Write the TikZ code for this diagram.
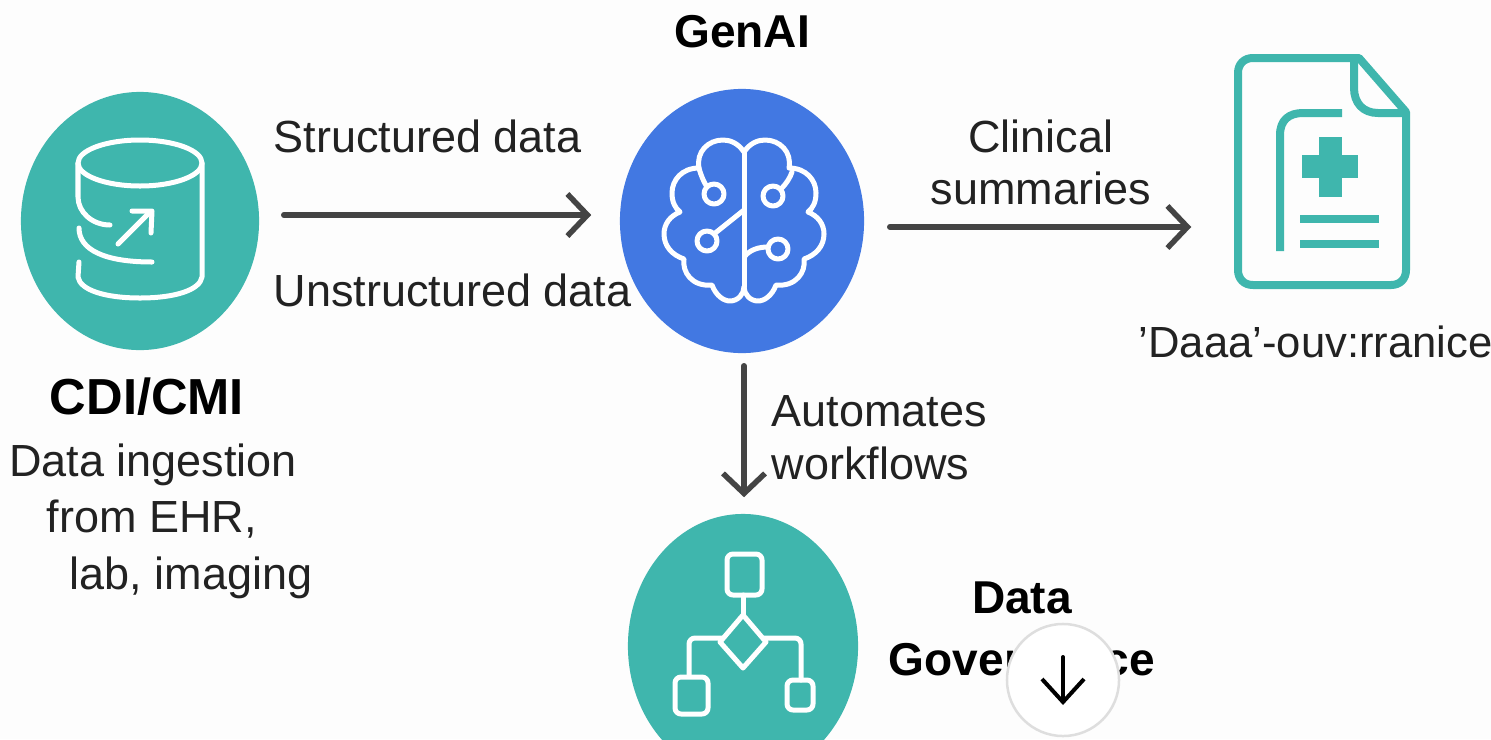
\documentclass[tikz,border=0pt]{standalone}
\usepackage{fontspec}
\setmainfont{Liberation Sans}
\usetikzlibrary{arrows.meta, shapes.geometric}

\definecolor{tealfill}{HTML}{3FB6AD}
\definecolor{bluefill}{HTML}{4278E2}
\definecolor{pagefill}{HTML}{FDFDFD}
\definecolor{inkdark}{HTML}{222222}
\definecolor{flowgray}{HTML}{444444}

\tikzset{
    disc/.style={shape=ellipse, inner sep=0pt, draw=none},
    icon/.style={draw=white, line width=0.05cm, line cap=round, line join=round},
    docline/.style={draw=tealfill, line width=0.08cm, line join=round},
    flow/.style={draw=flowgray, line width=0.055cm, line cap=round, -{Straight Barb[length=0.2cm, width=0.42cm, line width=0.055cm]}},
    plain/.style={text=inkdark, font=\fontsize{12.8}{15}\selectfont, inner sep=0pt},
    heading/.style={text=black, font=\fontsize{13.1}{15}\selectfont\bfseries, inner sep=0pt}
}

\newcommand{\brainhalf}{
    (744,152) .. controls (738,143) and (730,140) .. (723,140)
    .. controls (708,140) and (696,152) .. (699,168)
    .. controls (682,168) and (672,180) .. (672,193)
    .. controls (672,202) and (675,208) .. (680,212)
    .. controls (670,216) and (664,224) .. (664,234)
    .. controls (664,246) and (672,255) .. (684,259)
    .. controls (682,272) and (692,287) .. (712,285)
    .. controls (716,296) and (724,301) .. (730,301)
    .. controls (738,301) and (744,294) .. (744,287)
}

\begin{document}
\begin{tikzpicture}[x=0.01cm, y=-0.01cm]

            \useasboundingbox (0,0) rectangle (1491,739);
            \clip (0,0) rectangle (1491,739);
            \fill[pagefill] (0,0) rectangle (1491,739);

            \node[disc, fill=tealfill, minimum width=2.38cm, minimum height=2.58cm] (cdi) at (140,221) {};
            \node[disc, fill=bluefill, minimum width=2.44cm, minimum height=2.64cm] (genai) at (742,221) {};
            \node[disc, fill=tealfill, minimum width=2.30cm, minimum height=2.64cm] (gov) at (743,646) {};
            \node[inner sep=0pt, minimum width=1.70cm, minimum height=2.28cm] (doc) at (1322,171) {};

            \draw[flow] ([shift={(24,-6)}]cdi.east)--([shift={(-28,-6)}]genai.west);
            \draw[flow] ([shift={(25,6)}]genai.east)--([shift={(-45,56)}]doc.west);
            \draw[flow] ([shift={(2,12)}]genai.south)--([shift={(1,-16)}]gov.north);

            \draw[icon] (140,163) ellipse (62 and 23);
            \draw[icon] (78,163)--(78,197) .. controls (78,212) and (92,225) .. (110,225);
            \draw[icon] (79,228) .. controls (79,250) and (105,262) .. (152,262);
            \draw[icon] (79,262)--(78,277) .. controls (80,290) and (105,298) .. (140,298)
                .. controls (175,298) and (200,290) .. (202,277)--(202,163);
            \draw[icon] (118,244)--(150,212);
            \draw[icon] (132,211)--(152,211)--(151,233);

            \draw[icon] \brainhalf;
            \begin{scope}[shift={(1488,0)}, xscale=-1]
                \draw[icon] \brainhalf;
            \end{scope}
            \draw[icon] (744,152)--(744,287);
            \draw[icon] (714,194) circle (10);
            \draw[icon] (773,196) circle (10);
            \draw[icon] (707,241) circle (10);
            \draw[icon] (778,249) circle (10);
            \draw[icon] (699,168) .. controls (701,176) and (704,182) .. (707,187);
            \draw[icon] (792,172) .. controls (790,178) and (786,184) .. (781,189);
            \draw[icon] (714,234)--(744,210);
            \draw[icon] (745,256) .. controls (750,250) and (758,247) .. (768,247);

            \draw[docline] (1359,58)--(1253,58) .. controls (1244,58) and (1238,64) .. (1238,73)
                --(1238,270) .. controls (1238,279) and (1244,285) .. (1253,285)
                --(1391,285) .. controls (1400,285) and (1406,279) .. (1406,270)
                --(1406,112)--cycle;
            \draw[docline] (1354,62)--(1354,88) .. controls (1354,103) and (1363,113) .. (1378,113)--(1406,113);
            \draw[docline] (1280,251)--(1280,135) .. controls (1280,120) and (1289,113) .. (1303,113)--(1342,113);
            \fill[tealfill] (1319,137) rectangle (1342,197);
            \fill[tealfill] (1302,155) rectangle (1358,178);
            \draw[docline] (1300,219)--(1379,219);
            \draw[docline] (1300,244)--(1379,244);

            \draw[icon, rounded corners=0.06cm] (727,554) rectangle (762,595);
            \draw[icon] (743,595)--(743,615);
            \draw[icon] (743,615)--(766,642)--(743,668)--(720,642)--cycle;
            \draw[icon, rounded corners=0.06cm] (722,638)--(689,638)--(689,675);
            \draw[icon, rounded corners=0.06cm] (764,638)--(801,638)--(801,680);
            \draw[icon, rounded corners=0.06cm] (675,677) rectangle (708,714);
            \draw[icon, rounded corners=0.06cm] (787,680) rectangle (813,710);

            \node[heading] (genailabel) at (742,32) {GenAI};
            \node[plain, anchor=west] (structlabel) at (273,136) {Structured data};
            \node[plain, anchor=west] (unstructlabel) at (273,290) {Unstructured data};
            \node[heading, font=\fontsize{14.4}{15}\selectfont\bfseries] (cdilabel) at (147,397) {CDI/CMI};
            \node[plain] (ingestone) at (153,465) {Data ingestion};
            \node[plain] (ingesttwo) at (152,519) {from EHR,};
            \node[plain] (ingestthree) at (191,578) {lab, imaging};
            \node[plain] (clinicalone) at (1041,136) {Clinical};
            \node[plain] (clinicaltwo) at (1041,188) {summaries};
            \node[plain, font=\fontsize{12.4}{15}\selectfont, anchor=west] (garbled) at (1138,342) {'Daaa'-ouv:rranice};
            \node[plain, anchor=west] (autoone) at (771,411) {Automates};
            \node[plain, anchor=west] (autotwo) at (771,463) {workflows};
            \node[heading] (govone) at (1022,598) {Data};
            \node[heading] (govtwo) at (1022,660) {Governance};

            \node[circle, draw=black!13, fill=white, line width=0.025cm, inner sep=0pt, minimum size=1.12cm] (scrollbtn) at (1063,680) {};
            \coordinate (scrolltop) at (1063,657);
            \coordinate (scrollend) at (1063,705);
            \draw[line width=0.04cm, black, line cap=round, -{Straight Barb[length=0.23cm, width=0.42cm, line width=0.04cm]}] (scrolltop)--(scrollend);

\end{tikzpicture}
\end{document}
